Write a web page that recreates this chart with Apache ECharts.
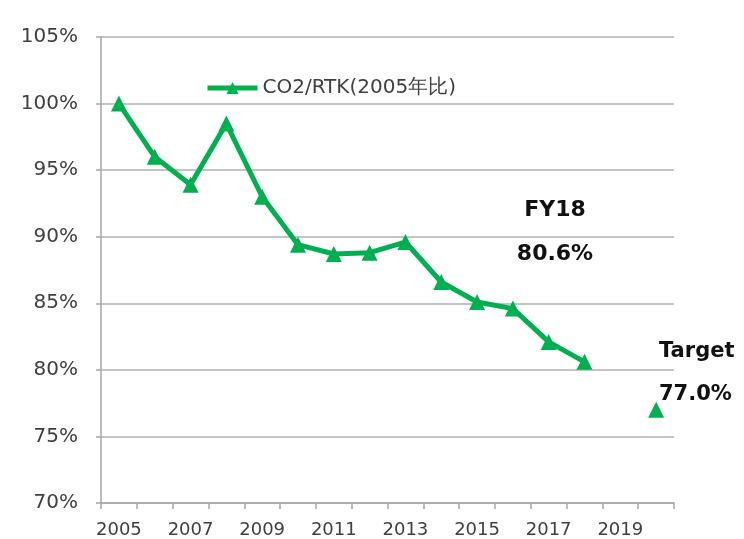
<!DOCTYPE html>
<html>
<head>
<meta charset="UTF-8">
<title>CO2/RTK</title>
<style>
    html, body { margin: 0; background: #fff; }
    #chart { width: 744px; height: 539px; }
</style>
</head>
<body>
<div id="chart"></div>
<script src="https://cdn.jsdelivr.net/npm/echarts@6/dist/echarts.min.js"></script>
<script>
// 年度（2005〜2020）
var years = ['2005', '2006', '2007', '2008', '2009', '2010', '2011', '2012',
             '2013', '2014', '2015', '2016', '2017', '2018', '2019', '2020'];
// CO2/RTK 実績（2005年比, %）
var actual = [100, 96.0, 93.9, 98.5, 93.0, 89.4, 88.7, 88.8,
              89.6, 86.6, 85.1, 84.6, 82.1, 80.6, null, null];
// 目標値
var target = [null, null, null, null, null, null, null, null,
              null, null, null, null, null, null, null, 77.0];
var seriesName = 'CO2/RTK(2005年比)';

var green = '#00b050';
var textColor = '#404040';
var font = 'DejaVu Sans, Verdana, sans-serif';

var chart = echarts.init(document.getElementById('chart'));

chart.setOption({
    animation: false,
    grid: { left: 101, right: 70, top: 37, bottom: 35, containLabel: false },
    legend: {
        data: [{ name: seriesName, lineStyle: { width: 5, color: green }, itemStyle: { color: green } }],
        left: 200,
        top: 73,
        itemWidth: 50,
        itemHeight: 15,
        itemGap: 4,
        textStyle: { color: textColor, fontSize: 20, fontFamily: font }
    },
    xAxis: {
        type: 'category',
        data: years,
        boundaryGap: true,
        axisLine: { lineStyle: { color: '#a6a6a6', width: 1.5 } },
        axisTick: { show: true, interval: 0, length: 6, lineStyle: { color: '#a6a6a6', width: 1.5 } },
        axisLabel: { interval: 1, color: textColor, fontSize: 18, fontFamily: font, margin: 18 }
    },
    yAxis: {
        type: 'value',
        min: 70,
        max: 105,
        interval: 5,
        axisLine: { show: true, lineStyle: { color: '#a6a6a6', width: 1.5 } },
        axisTick: { show: true, length: 5, lineStyle: { color: '#a6a6a6', width: 1.5 } },
        splitLine: { lineStyle: { color: '#b0b0b0', width: 1.5 } },
        axisLabel: { formatter: '{value}%', color: textColor, fontSize: 20, fontFamily: font, margin: 23 }
    },
    series: [{
        name: seriesName,
        type: 'line',
        data: actual,
        symbol: 'triangle',
        symbolSize: 16,
        connectNulls: false,
        lineStyle: { color: green, width: 5 },
        itemStyle: { color: green }
    }, {
        name: 'target',
        type: 'line',
        data: target,
        symbol: 'triangle',
        symbolSize: 16,
        lineStyle: { width: 0 },
        itemStyle: { color: green }
    }],
    graphic: [
        { type: 'text', x: 555, y: 210, style: { text: 'FY18', font: 'bold 22px ' + font, fill: '#111', align: 'center', verticalAlign: 'middle' } },
        { type: 'text', x: 555, y: 254, style: { text: '80.6%', font: 'bold 22px ' + font, fill: '#111', align: 'center', verticalAlign: 'middle' } },
        { type: 'text', x: 659, y: 352, style: { text: 'Target', font: 'bold 21px ' + font, fill: '#111', align: 'left', verticalAlign: 'middle' } },
        { type: 'text', x: 659, y: 395, style: { text: '77.0%', font: 'bold 21px ' + font, fill: '#111', align: 'left', verticalAlign: 'middle' } }
    ]
});
</script>
</body>
</html>
